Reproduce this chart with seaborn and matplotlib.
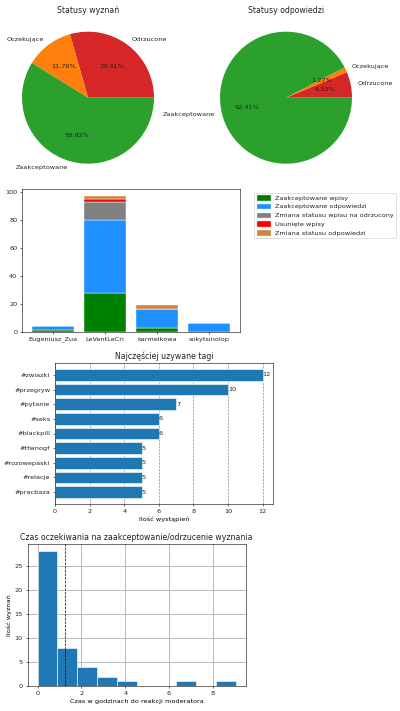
import matplotlib
matplotlib.use("Agg")
import matplotlib.pyplot as plt
import matplotlib.patches as mpatches
import numpy as np
import seaborn as sns

# -----------------------------
# dane
# -----------------------------
status_labels = ["Odrzucone", "Oczekujące", "Zaakceptowane"]
status_colors = ["tab:red", "tab:orange", "tab:green"]
wyznania_counts = [5, 2, 10]
odpowiedzi_counts = [5, 1, 73]

moderatorzy = ["Eugeniusz_Zua", "LeVentLeCri", "karmelkowa", "sokytsinolop"]
akcje = ["Zaakceptowane wpisy", "Zaakceptowane odpowiedzi",
         "Zmiana statusu wpisu na odrzucony", "Usunięte wpisy",
         "Zmiana statusu odpowiedzi"]
akcje_kolory = ["green", "dodgerblue", "grey", "red", "peru"]
zaakceptowane_wpisy = [1, 28, 3, 0]
zaakceptowane_odp = [3, 52, 13, 6]
zmiana_wpisu = [0, 13, 0, 0]
usuniete_wpisy = [0, 2, 0, 0]
zmiana_odp = [0, 2, 3, 0]

tagi = ["#zwiazki", "#przegryw", "#pytanie", "#seks", "#blackpill",
        "#tfwnogf", "#rozowepaski", "#relacje", "#pracbaza"]
tagi_ilosc = [12, 10, 7, 6, 6, 5, 5, 5, 5]

czas_krawedzie = [0, 0.905, 1.81, 2.715, 3.62, 4.525, 5.43, 6.335, 7.24, 8.145, 9.05]
czas_ilosc = [28, 8, 4, 2, 1, 0, 0, 1, 0, 1]
czas_sredni = 1.24

W, H = 400, 711


def px(l, t, r, b):
    return [l / W, 1 - b / H, (r - l) / W, (b - t) / H]


plt.rcParams["font.size"] = 9.3
plt.rcParams["text.color"] = "#222222"
plt.rcParams["xtick.labelcolor"] = "#222222"
plt.rcParams["ytick.labelcolor"] = "#222222"

fig = plt.figure(figsize=(8, 14.22), dpi=50)

# -----------------------------
# 1. wykresy kołowe
# -----------------------------
for rect, counts, title in [((22, 31.7, 154, 163.7), wyznania_counts, "Statusy wyznań"),
                            ((220, 31.7, 352, 163.7), odpowiedzi_counts, "Statusy odpowiedzi")]:
    ax = fig.add_axes(px(*rect))
    ax.pie(counts, labels=status_labels, colors=status_colors, autopct="%1.2f%%")
    ax.set_xlim(-1, 1)
    ax.set_ylim(-1, 1)
    ax.set_title(title, pad=27)

# -----------------------------
# 2. akcje moderatorów (słupki skumulowane)
# -----------------------------
ax = fig.add_axes(px(22, 189.3, 240, 331.7))
serie = [zaakceptowane_wpisy, zaakceptowane_odp, zmiana_wpisu, usuniete_wpisy, zmiana_odp]
bottom = np.zeros(len(moderatorzy))
for vals, kolor in zip(serie, akcje_kolory):
    sns.barplot(x=moderatorzy, y=vals, order=moderatorzy, color=kolor, saturation=1,
                bottom=bottom, width=0.8, edgecolor="white", linewidth=0.6, ax=ax)
    bottom = bottom + np.array(vals)
ax.set_xlim(-0.59, 3.59)
ax.set_ylim(0, 101.85)
handles = [mpatches.Patch(color=c, label=l) for c, l in zip(akcje_kolory, akcje)]
ax.legend(handles=handles, bbox_to_anchor=(1.05, 1), loc="upper left")

# -----------------------------
# 3. tagi
# -----------------------------
ax = fig.add_axes(px(55, 362.7, 273, 504.3))
sns.barplot(x=tagi_ilosc, y=tagi, orient="h", color="#1f77b4", saturation=1,
            width=0.8, edgecolor="white", linewidth=0.8, ax=ax)
ax.bar_label(ax.containers[0])
ax.set_ylim(8.84, -0.84)
ax.set_xlim(0, 12.6)
ax.set_axisbelow(True)
ax.grid(axis="x", linestyle="--", color="grey", linewidth=0.9)
ax.set_title("Najczęściej uzywane tagi")
ax.set_xlabel("Ilość wystąpień")

# -----------------------------
# 4. czas oczekiwania
# -----------------------------
ax = fig.add_axes(px(27.7, 544.3, 245.7, 686.3))
sns.histplot(x=czas_krawedzie[:-1], weights=czas_ilosc, bins=czas_krawedzie,
             color="#1f77b4", alpha=1, edgecolor="white", linewidth=0.8, ax=ax)
ax.axvline(czas_sredni, color="k", linestyle="--", linewidth=1)
ax.set_xlim(-0.45, 9.5)
ax.set_ylim(0, 29.4)
ax.set_axisbelow(True)
ax.grid(True, color="#b0b0b0", linewidth=1.2)
ax.set_title("Czas oczekiwania na zaakceptowanie/odrzucenie wyznania")
ax.set_xlabel("Czas w godzinach do reakcji moderatora")
ax.set_ylabel("Ilość wyznań")

fig.savefig("out.png", dpi=50)
